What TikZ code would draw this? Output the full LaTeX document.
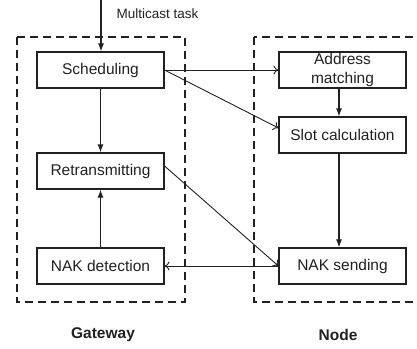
\documentclass[tikz,border=0pt]{standalone}
\usepackage{fontspec}
\setmainfont{Liberation Sans}
\usetikzlibrary{arrows.meta,calc}
\definecolor{ink}{rgb}{0.13,0.13,0.13}
\tikzset{
  stage/.style={draw=ink, line width=1.1pt, minimum width=127pt, minimum height=36pt,
    inner sep=0pt, text=ink, align=center, font=\fontsize{15.5}{19}\selectfont},
  group/.style={draw=ink, line width=1.2pt, dash pattern=on 8pt off 5pt},
  flow/.style={draw=ink, line width=1.1pt, -{Latex[length=8pt,width=6pt]}},
  link/.style={draw=ink, line width=0.9pt, -{To[length=5pt,width=9pt]}},
  caption/.style={text=ink, font=\fontsize{15.5}{19}\selectfont\bfseries},
}
\begin{document}
\begin{tikzpicture}[x=1pt,y=-1pt]
\useasboundingbox (0,0) rectangle (417,348);

% group frames
\draw[group] (17,37) rectangle (185,302);
\draw[group] (254,37) rectangle (426,302);

% gateway side
\node[stage] (sched) at (100.5,70) {Scheduling};
\node[stage] (retx)  at (100.5,171) {Retransmitting};
\node[stage] (det)   at (100.5,266) {NAK detection};

% node side
\node[stage] (addr)  at (342.5,70) {Address\\matching};
\node[stage] (slot)  at (342.5,135) {Slot calculation};
\node[stage] (send)  at (342.5,266) {NAK sending};

% incoming task
\coordinate (task) at (101,0);
\node[text=ink, font=\fontsize{13.5}{16}\selectfont, anchor=west] (tasklbl) at (113,14) {Multicast task};
\draw[flow] (task) -- (task |- sched.north);

% vertical flows
\draw[flow] (sched) -- (retx);
\draw[flow] (det) -- (retx);
\draw[flow] ([xshift=-3.5pt]addr.south) -- ([xshift=-3.5pt]slot.north);
\draw[flow] ([xshift=-3.5pt]slot.south) -- ([xshift=-3.5pt]send.north);

% cross links (y axis points down, so a positive yshift moves up)
\draw[link] (sched.east) -- (addr.west);
\draw[link] (sched.east) -- ([yshift=7pt]slot.west);
\draw[link] ([yshift=5pt]retx.east) -- (send.west);
\draw[link] (send.west) -- (det.east);

% captions
\node[caption] (gw) at (103,335) {Gateway};
\node[caption] (nd) at (338,335) {Node};
\end{tikzpicture}
\end{document}
